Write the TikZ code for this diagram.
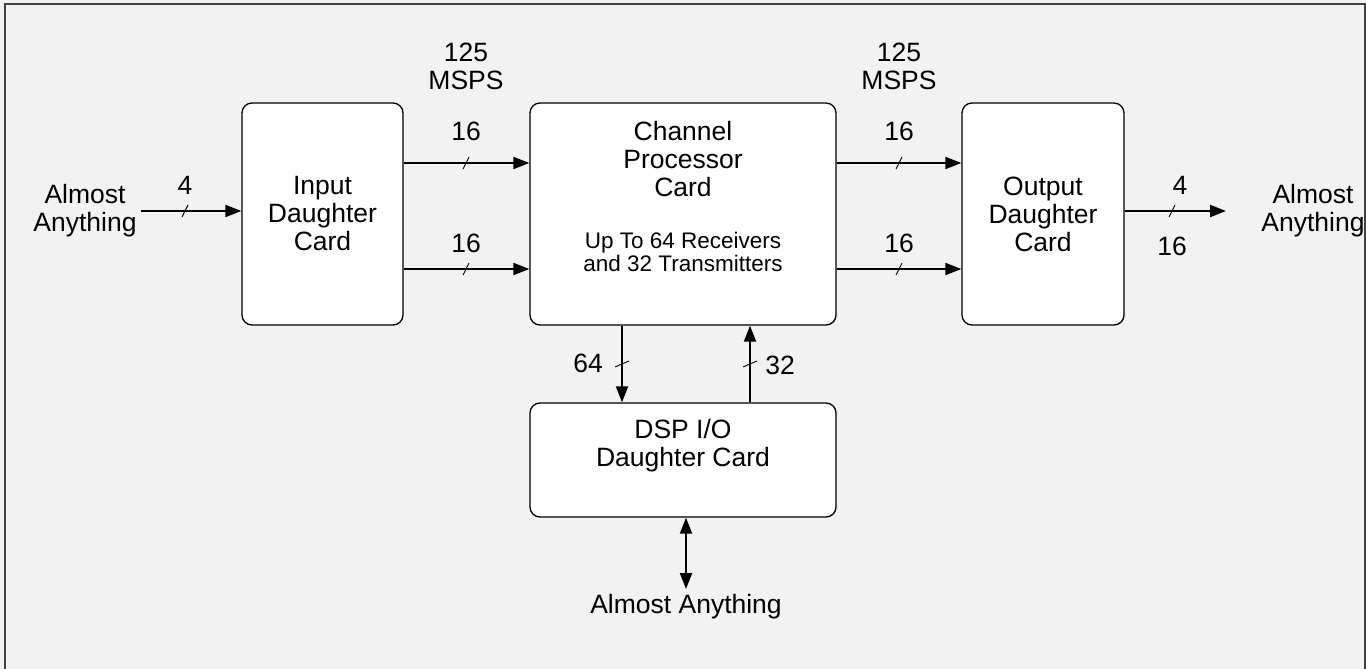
\documentclass[tikz,border=0pt]{standalone}
\usepackage{fontspec}
\setmainfont{Liberation Sans}
\usetikzlibrary{arrows.meta,calc}
\begin{document}
\begin{tikzpicture}[x=1pt,y=-1pt,
  card/.style={draw=black,line width=1.3pt,fill=white,rounded corners=10pt,inner sep=0pt},
  lbl/.style={inner sep=0pt,align=center,font=\fontsize{26.5}{28}\selectfont},
  small/.style={inner sep=0pt,align=center,font=\fontsize{22.5}{22.5}\selectfont},
  arr/.style={line width=2pt,-{Triangle[length=16pt,width=12pt]}},
  biarr/.style={line width=2pt,{Triangle[length=16pt,width=12pt]}-{Triangle[length=16pt,width=12pt]}},
  slashmark/.style={line width=0.9pt}]
\useasboundingbox (0,0) rectangle (1366,669);
\fill[black!5] (0,0) rectangle (1366,669);
\draw[line width=2pt,draw=black!75] (5,680) -- (5,4) -- (1365,4) -- (1365,680);
% cards
\node[card,minimum width=161pt,minimum height=222pt] (inp) at (322.5,214) {};
\node[card,minimum width=306pt,minimum height=222pt] (cpc) at (683,214) {};
\node[card,minimum width=162pt,minimum height=222pt] (out) at (1043,214) {};
\node[card,minimum width=306pt,minimum height=114pt] (dsp) at (683,460) {};
% card texts
\node[lbl] (inpT) at (322.5,214) {Input\\Daughter\\Card};
\node[lbl] (cpcT) at (683,159) {Channel\\Processor\\Card};
\node[small] (cpcS) at (683,252) {Up To 64 Receivers\\and 32 Transmitters};
\node[lbl] (outT) at (1043,214) {Output\\Daughter\\Card};
\node[lbl] (dspT) at (683,446) {DSP I/O\\Daughter Card};
% outside texts
\node[lbl] (aaL) at (85,211) {Almost\\Anything};
\node[lbl] (aaR) at (1313,211) {Almost\\Anything};
\node[lbl] (aaB) at (686,607) {Almost Anything};
\node[lbl] (rate1) at (466,66) {125\\MSPS};
\node[lbl] (rate2) at (899,66) {125\\MSPS};
% coordinates
\coordinate (inS) at (141,211);
\coordinate (outE) at (1226,211);
\coordinate (botE) at (686,589);
% connectors
\draw[arr] (inS) -- (inp.west |- inS);
\draw[arr] (inp.east |- 0,163) -- (cpc.west |- 0,163);
\draw[arr] (inp.east |- 0,269) -- (cpc.west |- 0,269);
\draw[arr] (cpc.east |- 0,163) -- (out.west |- 0,163);
\draw[arr] (cpc.east |- 0,269) -- (out.west |- 0,269);
\draw[arr] (out.east |- outE) -- (outE);
\draw[arr] (cpc.south -| 622,0) -- (dsp.north -| 622,0);
\draw[arr] (dsp.north -| 750,0) -- (cpc.south -| 750,0);
\draw[biarr] (dsp.south -| botE) -- (botE);
% bus slashes
\foreach \p in {(185,211),(466,163),(466,269),(899,163),(899,269),(1172,211)}
  \draw[slashmark] \p ++(-3,6) -- ++(6,-12);
\foreach \p in {(622,364),(750,364)}
  \draw[slashmark] \p ++(-7,3) -- ++(14,-6);
% bus widths
\node[lbl] (w1) at (185,185) {4};
\node[lbl] (w2) at (466,131) {16};
\node[lbl] (w3) at (466,243) {16};
\node[lbl] (w4) at (899,131) {16};
\node[lbl] (w5) at (899,243) {16};
\node[lbl] (w6) at (1180,185) {4};
\node[lbl] (w7) at (1172,246) {16};
\node[lbl] (w8) at (588,363) {64};
\node[lbl] (w9) at (780,365) {32};
\end{tikzpicture}
\end{document}
